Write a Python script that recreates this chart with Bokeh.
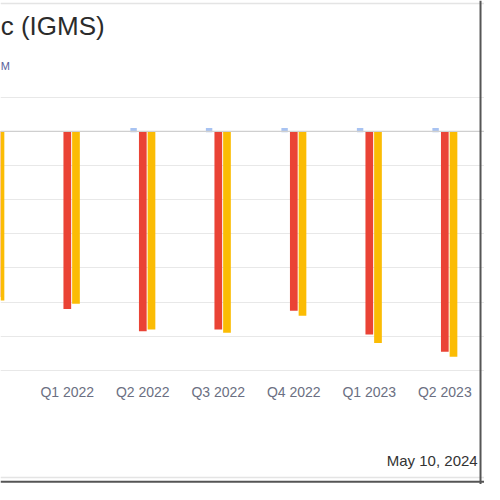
from bokeh.plotting import figure
from bokeh.models import Range1d, LinearAxis, FixedTicker, Grid, Label, Span
from bokeh.embed import file_html
from bokeh.resources import INLINE
import numpy as np

# ---- data ----
quarters = ["Q4 2021", "Q1 2022", "Q2 2022", "Q3 2022", "Q4 2022", "Q1 2023", "Q2 2023"]
actual_eps = [-0.97, -1.04, -1.17, -1.16, -1.05, -1.19, -1.29]      # red bars
estimate_eps = [-0.99, -1.01, -1.16, -1.18, -1.08, -1.24, -1.32]    # yellow bars
revenue_marker = [np.nan, np.nan, 0.02, 0.02, 0.02, 0.02, 0.02]     # small blue marks
grid_values = [0.2, 0.0, -0.2, -0.4, -0.6, -0.8, -1.0, -1.2, -1.4]
title_text = "c (IGMS)"
subtitle_text = "M"
date_text = "May 10, 2024"

idx = np.arange(len(quarters))

p = figure(width=484, height=484, output_backend="svg", toolbar_location=None,
           x_axis_location=None, y_axis_location=None,
           x_range=Range1d(0.1152, 6.5257), y_range=Range1d(-2.068, 0.766),
           min_border=0, outline_line_color=None, background_fill_color="white",
           border_fill_color="white")
p.xgrid.visible = False
p.ygrid.visible = False

grid = Grid(dimension=1, ticker=FixedTicker(ticks=[g for g in grid_values if g != 0]),
            grid_line_color="#e8e8e8", grid_line_width=1)
p.add_layout(grid, "center")
p.add_layout(Span(location=0, dimension="width", line_color="#cfcfcf", line_width=1.2))

w = 0.102
p.vbar(x=idx, top=0, bottom=actual_eps, width=w, fill_color="#ea4335", line_color=None)
p.vbar(x=idx + 0.115, top=0, bottom=estimate_eps, width=w, fill_color="#fbbc04", line_color=None)
p.vbar(x=idx - 0.122, top=revenue_marker, bottom=-0.006, width=0.085, fill_color="#a8c3f2",
       line_color=None)

xaxis = LinearAxis(fixed_location=-1.4, ticker=FixedTicker(ticks=list(idx)),
                   major_label_overrides={int(i): q for i, q in zip(idx, quarters)})
xaxis.axis_line_color = None
xaxis.major_tick_line_color = None
xaxis.minor_tick_line_color = None
xaxis.major_label_standoff = 8
xaxis.major_label_text_font = "Liberation Sans"
xaxis.major_label_text_font_size = "14px"
xaxis.major_label_text_color = "#6b6f82"
p.add_layout(xaxis, "below")

p.add_layout(Label(x=0.118, y=0.614, text=title_text, text_font="Liberation Sans",
                   text_font_size="26px", text_color="#2b2b2b", text_baseline="middle"))
p.add_layout(Label(x=0.118, y=0.380, text=subtitle_text, text_font="Liberation Sans",
                   text_font_size="11px", text_color="#5a5f9a", text_baseline="middle"))
p.add_layout(Label(x=6.435, y=-1.927, text=date_text, text_font="Liberation Sans",
                   text_font_size="15px", text_color="#333333", text_baseline="middle",
                   text_align="right"))

# frame lines of the card
p.add_layout(Span(location=0.748, dimension="width", line_color="#e4e4e4", line_width=1.5))
p.add_layout(Span(location=-2.027, dimension="width", line_color="#e4e4e4", line_width=1.5))
p.add_layout(Span(location=-2.052, dimension="width", line_color="#555555", line_width=2))
p.add_layout(Span(location=6.473, dimension="height", line_color="#555555", line_width=2))

open("out.html", "w").write(file_html(p, INLINE))
